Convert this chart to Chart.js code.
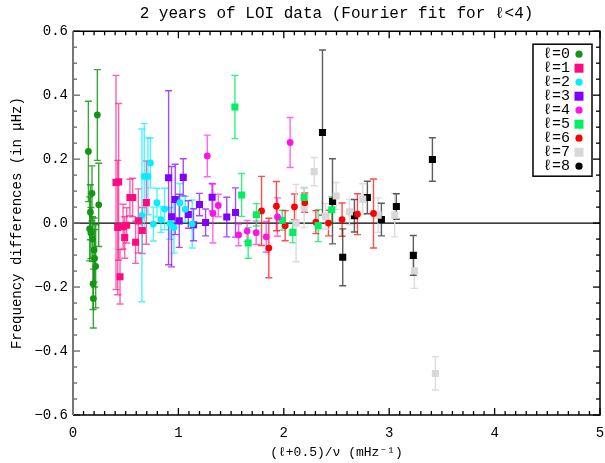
<!DOCTYPE html>
<html><head><meta charset="utf-8">
<script src="https://cdn.jsdelivr.net/npm/chart.js@4.4.1/dist/chart.umd.min.js"></script>
<style>html,body{margin:0;padding:0;background:#fff;}</style>
</head><body>
<canvas id="c" width="605" height="463"></canvas>
<script>
// ---- data ----
const seriesLabels = ['ℓ=0','ℓ=1','ℓ=2','ℓ=3','ℓ=4','ℓ=5','ℓ=6','ℓ=7','ℓ=8'];
const xTickLabels = ['0','1','2','3','4','5'];
const yTickLabels = ['−0.6','−0.4','−0.2','0.0','0.2','0.4','0.6'];

const l0x = [0.146,0.231,0.180,0.165,0.244,0.158,0.170,0.200,0.215,0.193,0.185,0.205,0.190];
const l0y = [0.224,0.338,0.093,0.034,0.057,-0.018,-0.031,-0.084,-0.135,-0.236,-0.050,-0.110,-0.190];
const l0e = [0.157,0.142,0.086,0.086,0.130,0.100,0.080,0.100,0.130,0.092,0.070,0.090,0.080];

const l1x = [0.408,0.433,0.424,0.446,0.475,0.490,0.509,0.540,0.566,0.594,0.620,0.657,0.696];
const l1y = [0.127,0.129,-0.014,-0.168,-0.011,-0.045,-0.007,0.080,0.080,-0.060,0.007,-0.023,0.064];
const l1e = [0.335,0.245,0.210,0.085,0.070,0.065,0.055,0.057,0.060,0.066,0.100,0.072,0.130];

const l2x = [0.654,0.676,0.711,0.734,0.762,0.797,0.834,0.869,0.920,0.958,1.014,1.065,1.131];
const l2y = [0.024,0.146,0.146,0.188,-0.003,0.064,0.011,0.044,-0.001,-0.014,0.064,0.043,-0.003];
const l2e = [0.270,0.165,0.120,0.078,0.053,0.045,0.040,0.065,0.050,0.080,0.060,0.040,0.075];

const l3x = [0.907,0.935,0.970,1.008,1.046,1.094,1.144,1.200,1.258,1.320,1.459,1.542];
const l3y = [0.142,0.020,0.074,0.007,0.143,0.027,-0.005,0.058,0.002,0.081,0.019,0.033];
const l3e = [0.272,0.157,0.110,0.083,0.058,0.043,0.050,0.035,0.042,0.043,0.062,0.077];

const l4x = [1.274,1.327,1.378,1.571,1.652,1.738,1.833,1.940,2.060];
const l4y = [0.210,0.030,0.055,-0.037,-0.025,-0.030,-0.043,0.019,0.252];
const l4e = [0.065,0.092,0.035,0.034,0.033,0.037,0.048,0.060,0.078];

const l5x = [1.536,1.600,1.662,1.741,1.985,2.085,2.193,2.326,2.455];
const l5y = [0.363,0.088,-0.062,0.026,0.009,-0.029,0.080,-0.008,0.042];
const l5e = [0.099,0.067,0.048,0.035,0.031,0.032,0.030,0.050,0.040];

const l6x = [1.789,1.858,1.930,2.013,2.101,2.199,2.304,2.424,2.553,2.699,2.851];
const l6y = [0.038,-0.078,0.053,-0.008,0.051,0.064,0.003,0.000,0.011,0.028,0.030];
const l6e = [0.108,0.093,0.077,0.047,0.040,0.030,0.036,0.040,0.052,0.064,0.108];

const l7x = [2.117,2.193,2.288,2.395,2.497,2.623,2.749,2.895,3.052,3.239,3.438];
const l7y = [0.000,0.049,0.161,0.021,0.085,0.035,0.075,0.025,0.025,-0.149,-0.470];
const l7e = [0.121,0.063,0.044,0.040,0.042,0.040,0.048,0.054,0.068,0.055,0.052];

const l8x = [2.367,2.462,2.559,2.670,2.793,2.926,3.068,3.229,3.410];
const l8y = [0.283,0.068,-0.107,0.023,0.080,0.011,0.052,-0.101,0.199];
const l8e = [0.258,0.133,0.089,0.051,0.051,0.051,0.040,0.062,0.068];

// ---- styles ----
const colors   = ['#149614','#ff0a82','#00f0ff','#8000ff','#ff14e6','#00f060','#ff0000','#d8d8d8','#000000'];
const errCols  = ['rgba(20,150,20,0.85)','rgba(255,10,130,0.65)','rgba(0,240,255,0.7)','rgba(128,0,255,0.7)','rgba(255,20,230,0.65)','rgba(0,240,96,0.8)','rgba(255,0,0,0.7)','rgba(216,216,216,0.9)','rgba(40,40,40,0.75)'];
const shapes   = ['circle','rect','circle','rect','circle','rect','circle','rect','rect'];
const legendShapes = ['circle','rect','circle','rect','circle','rect','circle','rect','circle'];

const xs = [l0x,l1x,l2x,l3x,l4x,l5x,l6x,l7x,l8x];
const ys = [l0y,l1y,l2y,l3y,l4y,l5y,l6y,l7y,l8y];
const es = [l0e,l1e,l2e,l3e,l4e,l5e,l6e,l7e,l8e];

const datasets = seriesLabels.map((lab,i)=>({
  label: lab,
  data: xs[i].map((x,j)=>({x:x,y:ys[i][j]})),
  errors: es[i],
  errColor: errCols[i],
  backgroundColor: colors[i],
  borderColor: colors[i],
  borderWidth: 0,
  pointStyle: shapes[i],
  pointRadius: shapes[i]==='rect' ? 5 : 3.4,
  pointHoverRadius: 5
}));

const FONT = "'Liberation Mono', 'DejaVu Sans Mono', monospace";

const errorBarPlugin = {
  id:'errbars',
  beforeDatasetsDraw(chart){
    const {ctx, scales:{x,y}} = chart;
    ctx.save();
    ctx.strokeStyle='#000'; ctx.lineWidth=1.3;
    const y0=y.getPixelForValue(0);
    ctx.beginPath(); ctx.moveTo(chart.chartArea.left,y0); ctx.lineTo(chart.chartArea.right,y0); ctx.stroke();
    chart.data.datasets.forEach(ds=>{
      ctx.strokeStyle = ds.errColor; ctx.lineWidth = 1.4;
      ds.data.forEach((p,j)=>{
        const px = x.getPixelForValue(p.x);
        const t = y.getPixelForValue(p.y+ds.errors[j]);
        const b = y.getPixelForValue(p.y-ds.errors[j]);
        ctx.beginPath();
        ctx.moveTo(px,t); ctx.lineTo(px,b);
        ctx.moveTo(px-3.5,t); ctx.lineTo(px+3.5,t);
        ctx.moveTo(px-3.5,b); ctx.lineTo(px+3.5,b);
        ctx.stroke();
      });
    });
    ctx.restore();
  }
};

const framePlugin = {
  id:'frame',
  afterDraw(chart){
    const {ctx, chartArea:a, scales:{x,y}} = chart;
    ctx.save();
    ctx.lineWidth=1.3; ctx.strokeStyle='#000';
    for(let k=0;k<=50;k++){
      const v=k/10, px=x.getPixelForValue(v), len=(k%10===0)?7:4;
      ctx.beginPath();
      ctx.moveTo(px,a.bottom); ctx.lineTo(px,a.bottom-len);
      ctx.moveTo(px,a.top); ctx.lineTo(px,a.top+len);
      ctx.stroke();
    }
    for(let k=-12;k<=12;k++){
      const v=k/20, py=y.getPixelForValue(v), len=(k%4===0)?7:4;
      ctx.beginPath(); ctx.strokeStyle='#666';
      ctx.moveTo(a.left,py); ctx.lineTo(a.left+len,py); ctx.stroke();
      ctx.beginPath(); ctx.strokeStyle='#000';
      ctx.moveTo(a.right,py); ctx.lineTo(a.right-len,py); ctx.stroke();
    }
    ctx.strokeStyle='#000'; ctx.lineWidth=1.5;
    ctx.beginPath();
    ctx.moveTo(a.left,a.bottom); ctx.lineTo(a.right,a.bottom); ctx.lineTo(a.right,a.top); ctx.lineTo(a.left,a.top);
    ctx.stroke();
    ctx.strokeStyle='#777'; ctx.lineWidth=2;
    ctx.beginPath(); ctx.moveTo(a.left,a.top); ctx.lineTo(a.left,a.bottom); ctx.stroke();

    // legend
    const bx=a.right-67, by=a.top+13, bw=59, bh=132;
    ctx.fillStyle='#fff'; ctx.fillRect(bx,by,bw,bh);
    ctx.strokeStyle='#000'; ctx.lineWidth=1.5; ctx.strokeRect(bx,by,bw,bh);
    ctx.font="15px "+FONT; ctx.textAlign='right'; ctx.textBaseline='middle';
    chart.data.datasets.forEach((ds,i)=>{
      const ry=by+10+14*i;
      ctx.fillStyle='#000';
      ctx.fillText(ds.label, bx+37, ry);
      ctx.fillStyle=colors[i];
      const mx=bx+46;
      if(legendShapes[i]==='circle'){ctx.beginPath(); ctx.arc(mx,ry,3.6,0,Math.PI*2); ctx.fill();}
      else ctx.fillRect(mx-4.5,ry-4.5,9,9);
    });
    ctx.restore();
  }
};

new Chart(document.getElementById('c'),{
  type:'scatter',
  data:{datasets},
  plugins:[errorBarPlugin, framePlugin],
  options:{
    responsive:false, animation:false, devicePixelRatio:1,
    layout:{padding:{left:0,right:5,top:0,bottom:0}},
    plugins:{
      legend:{display:false}, tooltip:{enabled:false},
      title:{display:true, fullSize:false, text:'2 years of LOI data (Fourier fit for ℓ<4)', color:'#000',
        font:{family:FONT, size:16, weight:'normal'}, padding:{top:4,bottom:8}}
    },
    scales:{
      x:{type:'linear', min:0, max:5,
        afterFit(s){s.height=48; s.paddingRight=0; s.paddingLeft=0;},
        grid:{display:false, drawTicks:false}, border:{display:false},
        ticks:{stepSize:1, padding:10, color:'#000', font:{family:FONT,size:14},
          callback:(v)=>xTickLabels[Math.round(v)]},
        title:{display:true, text:'(ℓ+0.5)/ν (mHz⁻¹)', color:'#000', font:{family:FONT,size:13}, padding:{top:0,bottom:3}}
      },
      y:{type:'linear', min:-0.6, max:0.6,
        afterFit(s){s.width=73;},
        grid:{display:false, drawTicks:false}, border:{display:false},
        ticks:{stepSize:0.2, padding:5, color:'#000', font:{family:FONT,size:14},
          callback:(v)=>yTickLabels[Math.round(v/0.2)+3]},
        title:{display:true, text:'Frequency differences (in μHz)', color:'#000', font:{family:FONT,size:14}, padding:{top:9,bottom:0}}
      }
    }
  }
});
</script>
</body></html>
